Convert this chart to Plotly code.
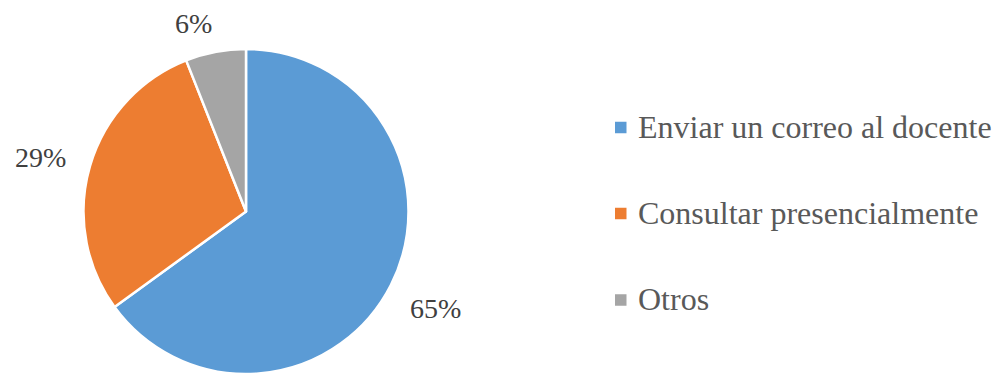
import math
import plotly.graph_objects as go

# Preferred way to contact the teacher
categories = ["Enviar un correo al docente", "Consultar presencialmente", "Otros"]
shares = [65, 29, 6]
colors = ["#5B9BD5", "#ED7D31", "#A5A5A5"]

# Outside-label placement: radial distance (in radii) and angular nudge (deg)
label_radius = [1.31, 1.31, 1.20]
label_nudge = [0.0, 1.5, 4.7]

SERIF = "Liberation Serif"

W, H = 994, 374
CX, CY, R = 246, 211.5, 162.5  # pie centre/radius in pixels

dom_y0 = max(0.0, (H - CY - R) / H)
dom_y1 = min(1.0, (H - CY + R) / H)

fig = go.Figure(
    go.Pie(
        labels=categories,
        values=shares,
        sort=False,
        direction="clockwise",
        rotation=0,
        marker=dict(colors=colors, line=dict(color="white", width=2.5)),
        textinfo="none",
        hoverinfo="label+percent",
        showlegend=False,
        domain=dict(x=[(CX - R) / W, (CX + R) / W], y=[dom_y0, dom_y1]),
    )
)

total = sum(shares)
cum = 0.0
for v, rf, nudge in zip(shares, label_radius, label_nudge):
    mid = cum + v / 2
    cum += v
    ang = math.radians(90 - 360 * mid / total + nudge)
    px = CX + rf * R * math.cos(ang)
    py = CY - rf * R * math.sin(ang)
    fig.add_annotation(
        x=px / W, y=1 - py / H, xref="paper", yref="paper",
        text=f"{round(100 * v / total)}%", showarrow=False,
        xanchor="center", yanchor="middle",
        font=dict(family=SERIF, size=28, color="#404040"),
    )

# Legend: small squares with serif labels
legend_x = 615
legend_rows = [127.5, 213.5, 300]
sq = 11.5
for name, col, ly in zip(categories, colors, legend_rows):
    fig.add_shape(
        type="rect", xref="paper", yref="paper",
        x0=legend_x / W, x1=(legend_x + sq) / W,
        y0=1 - (ly + sq / 2) / H, y1=1 - (ly - sq / 2) / H,
        fillcolor=col, line=dict(width=0),
    )
    fig.add_annotation(
        x=(legend_x + sq + 9) / W, y=1 - (ly - 1) / H, xref="paper", yref="paper",
        text=name, showarrow=False, xanchor="left", yanchor="middle",
        font=dict(family=SERIF, size=32, color="#595959"),
    )

fig.update_layout(
    width=W, height=H,
    margin=dict(l=0, r=0, t=0, b=0),
    paper_bgcolor="white", plot_bgcolor="white",
    font=dict(family=SERIF),
)

fig.write_html("out.html")
